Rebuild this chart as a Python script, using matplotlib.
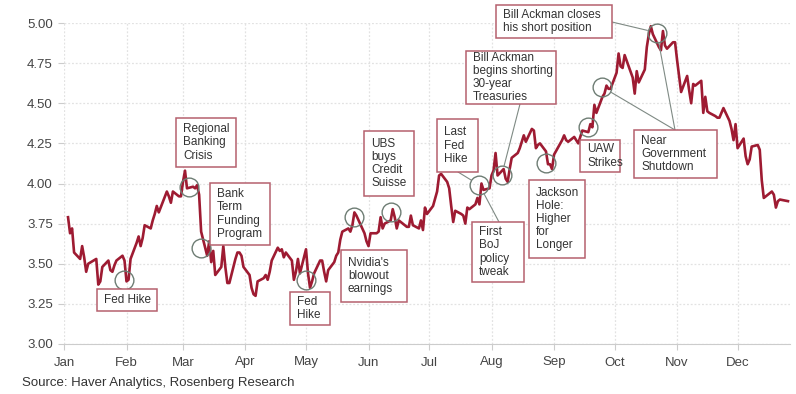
import matplotlib
matplotlib.use('Agg')
import matplotlib.pyplot as plt
import matplotlib.dates as mdates
import pandas as pd

# 10-year Treasury yield, 2023 (daily)
dates = [
    '01-03', '01-04', '01-05', '01-06', '01-09', '01-10', '01-11', '01-12', '01-13', '01-17',
    '01-18', '01-19', '01-20', '01-23', '01-24', '01-25', '01-26', '01-27', '01-30', '01-31',
    '02-01', '02-02', '02-03', '02-06', '02-07', '02-08', '02-09', '02-10', '02-13', '02-14',
    '02-15', '02-16', '02-17', '02-21', '02-22', '02-23', '02-24', '02-27', '02-28',
    '03-01', '03-02', '03-03', '03-06', '03-07', '03-08', '03-09', '03-10', '03-13', '03-14',
    '03-15', '03-16', '03-17', '03-20', '03-21', '03-22', '03-23', '03-24', '03-27', '03-28',
    '03-29', '03-30', '03-31',
    '04-03', '04-04', '04-05', '04-06', '04-07', '04-10', '04-11', '04-12', '04-13', '04-14',
    '04-17', '04-18', '04-19', '04-20', '04-21', '04-24', '04-25', '04-26', '04-27', '04-28',
    '05-01', '05-02', '05-03', '05-04', '05-05', '05-08', '05-09', '05-10', '05-11', '05-12',
    '05-15', '05-16', '05-17', '05-18', '05-19', '05-22', '05-23', '05-24', '05-25', '05-26',
    '05-30', '05-31',
    '06-01', '06-02', '06-05', '06-06', '06-07', '06-08', '06-09', '06-12', '06-13', '06-14',
    '06-15', '06-16', '06-20', '06-21', '06-22', '06-23', '06-26', '06-27', '06-28', '06-29',
    '06-30',
    '07-03', '07-05', '07-06', '07-07', '07-10', '07-11', '07-12', '07-13', '07-14', '07-17',
    '07-18', '07-19', '07-20', '07-21', '07-24', '07-25', '07-26', '07-27', '07-28', '07-31',
    '08-01', '08-02', '08-03', '08-04', '08-07', '08-08', '08-09', '08-10', '08-11', '08-14',
    '08-15', '08-16', '08-17', '08-18', '08-21', '08-22', '08-23', '08-24', '08-25', '08-28',
    '08-29', '08-30', '08-31',
    '09-01', '09-05', '09-06', '09-07', '09-08', '09-11', '09-12', '09-13', '09-14', '09-15',
    '09-18', '09-19', '09-20', '09-21', '09-22', '09-25', '09-26', '09-27', '09-28', '09-29',
    '10-02', '10-03', '10-04', '10-05', '10-06', '10-10', '10-11', '10-12', '10-13', '10-16',
    '10-17', '10-18', '10-19', '10-20', '10-23', '10-24', '10-25', '10-26', '10-27', '10-30',
    '10-31',
    '11-01', '11-02', '11-03', '11-06', '11-07', '11-08', '11-09', '11-10', '11-13', '11-14',
    '11-15', '11-16', '11-17', '11-20', '11-21', '11-22', '11-24', '11-27', '11-28', '11-29',
    '11-30',
    '12-01', '12-04', '12-05', '12-06', '12-07', '12-08', '12-11', '12-12', '12-13', '12-14',
    '12-15', '12-18', '12-19', '12-20', '12-21', '12-22', '12-26',
]
yields = [
    3.79, 3.69, 3.72, 3.57, 3.53, 3.61, 3.54, 3.45, 3.50, 3.53,
    3.37, 3.39, 3.48, 3.52, 3.46, 3.45, 3.49, 3.52, 3.55, 3.52,
    3.39, 3.40, 3.53, 3.63, 3.67, 3.61, 3.66, 3.74, 3.72, 3.77,
    3.81, 3.86, 3.82, 3.95, 3.92, 3.88, 3.95, 3.92, 3.92,
    4.01, 4.08, 3.97, 3.98, 3.97, 3.99, 3.93, 3.70, 3.55, 3.64,
    3.51, 3.58, 3.43, 3.48, 3.61, 3.48, 3.38, 3.38, 3.53, 3.57,
    3.57, 3.55, 3.48,
    3.43, 3.35, 3.31, 3.30, 3.39, 3.41, 3.43, 3.40, 3.45, 3.52,
    3.60, 3.58, 3.59, 3.54, 3.57, 3.52, 3.40, 3.45, 3.53, 3.44,
    3.59, 3.44, 3.35, 3.39, 3.44, 3.52, 3.52, 3.45, 3.39, 3.46,
    3.51, 3.55, 3.57, 3.65, 3.70, 3.72, 3.70, 3.74, 3.82, 3.80,
    3.69, 3.64,
    3.61, 3.69, 3.69, 3.70, 3.79, 3.72, 3.75, 3.77, 3.84, 3.79,
    3.72, 3.77, 3.73, 3.73, 3.80, 3.74, 3.72, 3.77, 3.71, 3.85,
    3.81,
    3.86, 3.95, 4.05, 4.06, 4.01, 3.97, 3.86, 3.76, 3.83, 3.81,
    3.80, 3.75, 3.85, 3.84, 3.87, 3.91, 3.87, 4.00, 3.96, 3.97,
    4.05, 4.08, 4.19, 4.05, 4.09, 4.03, 4.01, 4.09, 4.16, 4.19,
    4.22, 4.26, 4.30, 4.26, 4.34, 4.33, 4.22, 4.24, 4.25, 4.20,
    4.12, 4.12, 4.09,
    4.18, 4.27, 4.30, 4.27, 4.26, 4.29, 4.27, 4.25, 4.29, 4.33,
    4.32, 4.37, 4.35, 4.49, 4.44, 4.54, 4.56, 4.61, 4.59, 4.59,
    4.69, 4.81, 4.73, 4.72, 4.80, 4.66, 4.56, 4.70, 4.63, 4.71,
    4.85, 4.93, 4.98, 4.93, 4.85, 4.83, 4.95, 4.86, 4.84, 4.88,
    4.88,
    4.77, 4.67, 4.57, 4.67, 4.58, 4.50, 4.62, 4.61, 4.64, 4.44,
    4.54, 4.45, 4.44, 4.42, 4.41, 4.41, 4.47, 4.39, 4.34, 4.27,
    4.37,
    4.22, 4.28, 4.17, 4.12, 4.15, 4.23, 4.24, 4.21, 4.02, 3.91,
    3.92, 3.95, 3.93, 3.85, 3.89, 3.90, 3.89,
]

# circled events (centre of each circle)
event_dates = ['01-31', '03-04', '03-10', '05-01', '05-25', '06-12',
               '07-26', '08-06', '08-28', '09-18', '09-25', '10-22']
event_values = [3.40, 3.98, 3.60, 3.40, 3.79, 3.82,
                3.99, 4.05, 4.13, 4.35, 4.60, 4.94]

# annotation texts
labels = [
    'Fed Hike',
    'Regional\nBanking\nCrisis',
    'Bank\nTerm\nFunding\nProgram',
    'Fed\nHike',
    "Nvidia's\nblowout\nearnings",
    'UBS\nbuys\nCredit\nSuisse',
    'Last\nFed\nHike',
    'First\nBoJ\npolicy\ntweak',
    'Bill Ackman\nbegins shorting\n30-year\nTreasuries',
    'Jackson\nHole:\nHigher\nfor\nLonger',
    'UAW\nStrikes',
    'Bill Ackman closes\nhis short position',
    'Near\nGovernment\nShutdown',
]
# box positions in image pixels (left, top, right, bottom)
boxes = [
    (97, 289, 157, 311), (176, 118, 236, 167), (210, 183, 270, 245),
    (290, 292, 330, 325), (341, 250, 407, 302), (364, 131, 414, 196),
    (437, 119, 478, 172), (472, 222, 524, 282), (466, 51, 556, 104),
    (529, 180, 585, 258), (580, 140, 620, 172), (496, 5, 612, 38),
    (634, 130, 717, 178),
]
# connector lines: (box anchor pixel, event index)
links = [((458, 172), 6), ((499, 222), 6), ((520, 104), 7),
         ((612, 22), 11), ((675, 130), 10), ((675, 130), 11)]

W, H = 796, 394
line_col = '#9e1b32'
box_col = '#b5606e'
txt_col = '#333333'
grid_col = '#e2e2e2'

plt.rcParams['font.family'] = ['Liberation Sans', 'DejaVu Sans']

x = pd.to_datetime(['2023-' + d for d in dates])
ex = pd.to_datetime(['2023-' + d for d in event_dates])

fig = plt.figure(figsize=(W / 100, H / 100), dpi=100)
ax = fig.add_axes([64 / W, (H - 344) / H, (790 - 64) / W, (344 - 23) / H])

ax.plot(x, yields, color=line_col, lw=1.9, zorder=3)
ax.plot(ex, event_values, 'o', ms=13.5, mfc='none', mec='#6e7d74', mew=1.0, zorder=4)

ax.set_ylim(3.0, 5.0)
ax.set_yticks([3.0, 3.25, 3.5, 3.75, 4.0, 4.25, 4.5, 4.75, 5.0])
ax.yaxis.set_major_formatter(plt.FuncFormatter(lambda v, p: f'{v:.2f}'))
ax.set_xlim(pd.Timestamp('2023-01-01'), pd.Timestamp('2023-12-27'))
ax.xaxis.set_major_locator(mdates.MonthLocator())
ax.xaxis.set_major_formatter(mdates.DateFormatter('%b'))

ax.grid(True, color=grid_col, linestyle=(0, (1.5, 1.5)), lw=0.9, zorder=0)
for s in ['top', 'right', 'left']:
    ax.spines[s].set_visible(False)
ax.spines['bottom'].set_color('#cccccc')
ax.tick_params(axis='both', colors='#cccccc', length=4, width=0.8,
               labelcolor='#444444', labelsize=9.5)
ax.tick_params(axis='y', pad=4)
ax.tick_params(axis='x', pad=5)

for (px, py), i in links:
    ax.annotate('', xy=(ex[i], event_values[i]), xycoords='data',
                xytext=(px / W, 1 - py / H), textcoords='figure fraction',
                arrowprops=dict(arrowstyle='-', color='#7f8a84', lw=0.8,
                                shrinkA=0, shrinkB=7),
                annotation_clip=False, zorder=4)

for text, (l, t, r, b) in zip(labels, boxes):
    rect = plt.Rectangle((l / W, 1 - b / H), (r - l) / W, (b - t) / H,
                         transform=fig.transFigure, fill=True, fc='white',
                         ec=box_col, lw=1.1, zorder=5)
    fig.add_artist(rect)
    fig.text((l + 7) / W, 1 - (t + b) / 2 / H, text, ha='left', va='center',
             fontsize=8.5, color=txt_col, linespacing=1.12, zorder=6)

fig.text(22 / W, 1 - 383 / H, 'Source: Haver Analytics, Rosenberg Research',
         fontsize=9.5, color='#333333', va='center', ha='left')

fig.savefig('out.png', dpi=100)
